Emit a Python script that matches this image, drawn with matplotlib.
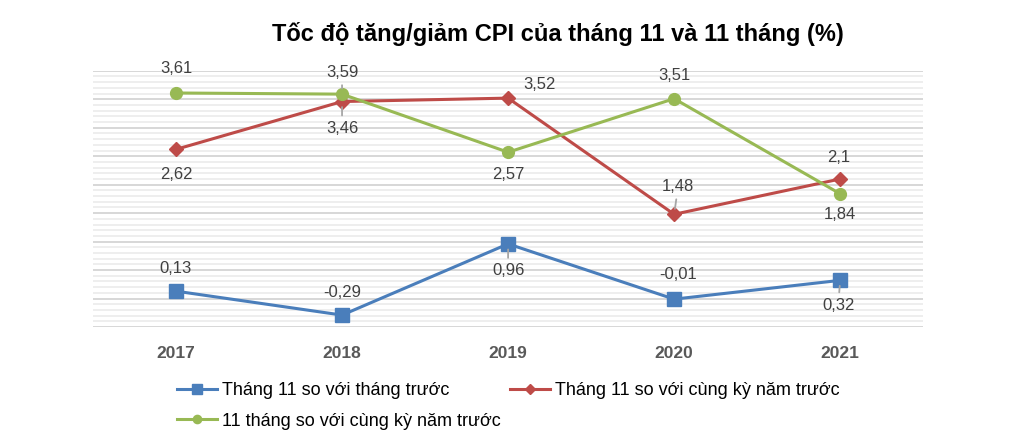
import numpy as np
import matplotlib
matplotlib.use('Agg')
import matplotlib.pyplot as plt
from matplotlib.ticker import MultipleLocator

plt.rcParams['font.family'] = ['Liberation Sans', 'DejaVu Sans']

years = ['2017', '2018', '2019', '2020', '2021']
mom = [0.13, -0.29, 0.96, -0.01, 0.32]          # Tháng 11 so với tháng trước
yoy = [2.62, 3.46, 3.52, 1.48, 2.1]             # Tháng 11 so với cùng kỳ năm trước
ytd = [3.61, 3.59, 2.57, 3.51, 1.84]            # 11 tháng so với cùng kỳ năm trước
labels = ['Tháng 11 so với tháng trước',
          'Tháng 11 so với cùng kỳ năm trước',
          '11 tháng so với cùng kỳ năm trước']

c_blue = '#4a7ebb'
c_red = '#be4b48'
c_green = '#98b954'

fig = plt.figure(figsize=(10.25, 4.48), dpi=100)
ax = fig.add_axes([0.0907, 0.270, 0.81, 0.572])

x = np.arange(len(years))
l1, = ax.plot(x, mom, color=c_blue, lw=2.2, marker='s', ms=10, label=labels[0], zorder=3)
l2, = ax.plot(x, yoy, color=c_red, lw=2.2, marker='D', ms=7.5, label=labels[1], zorder=3)
l3, = ax.plot(x, ytd, color=c_green, lw=2.2, marker='o', ms=8.5, label=labels[2], zorder=3)

ax.set_xlim(-0.5, 4.5)
ax.set_ylim(-0.5, 4.0)
ax.yaxis.set_major_locator(MultipleLocator(0.5))
ax.yaxis.set_minor_locator(MultipleLocator(0.1))
ax.grid(which='major', axis='y', color='#d4d4d4', lw=1.3, zorder=1)
ax.grid(which='minor', axis='y', color='#ededed', lw=1.3, zorder=0)
ax.tick_params(axis='y', which='both', left=False, labelleft=False)
ax.tick_params(axis='x', length=0, pad=14)
ax.set_xticks(x)
ax.set_xticklabels(years, fontsize=12.5, fontweight='bold', color='#595959')
for s in ax.spines.values():
    s.set_visible(False)

# (series, index, dx, dy in pixels, leader)
def lab(vals, i, dx, dy, leader=False):
    txt = str(vals[i]).replace('.', ',')
    kw = {}
    if leader:
        kw['arrowprops'] = dict(arrowstyle='-', color='#a6a6a6', lw=1.3,
                                shrinkA=2, shrinkB=4)
    ax.annotate(txt, (x[i], vals[i]), xytext=(dx, dy), textcoords='offset pixels',
                ha='center', va='center', fontsize=12, color='#404040', **kw)

lab(ytd, 0, 0, 24)
lab(ytd, 1, 0, 22, True)
lab(ytd, 2, 0, -22)
lab(ytd, 3, 0, 23)
lab(ytd, 4, 0, -21)
lab(yoy, 0, 0, -25)
lab(yoy, 1, 0, -27, True)
lab(yoy, 2, 31, 14)
lab(yoy, 3, 4, 28, True)
lab(yoy, 4, -2, 21)
lab(mom, 0, 0, 23)
lab(mom, 1, 0, 23)
lab(mom, 2, 0, -27, True)
lab(mom, 3, 4, 25)
lab(mom, 4, -2, -25, True)

fig.text(558 / 1025, 1 - 34 / 448, 'Tốc độ tăng/giảm CPI của tháng 11 và 11 tháng (%)',
         ha='center', va='center', fontsize=17, fontweight='bold', color='#000000')

# column-major fill: blue, green in col 1; red in col 2
fig.legend([l1, l3, l2], [labels[0], labels[2], labels[1]],
           loc='upper left', bbox_to_anchor=(0.157, 1 - 366 / 448), ncol=2,
           frameon=False, fontsize=13, handlelength=2.2, handletextpad=0.3,
           columnspacing=0.5, labelspacing=0.75, markerscale=0.7,
           labelcolor='#000000')

fig.savefig('out.png', dpi=100)
